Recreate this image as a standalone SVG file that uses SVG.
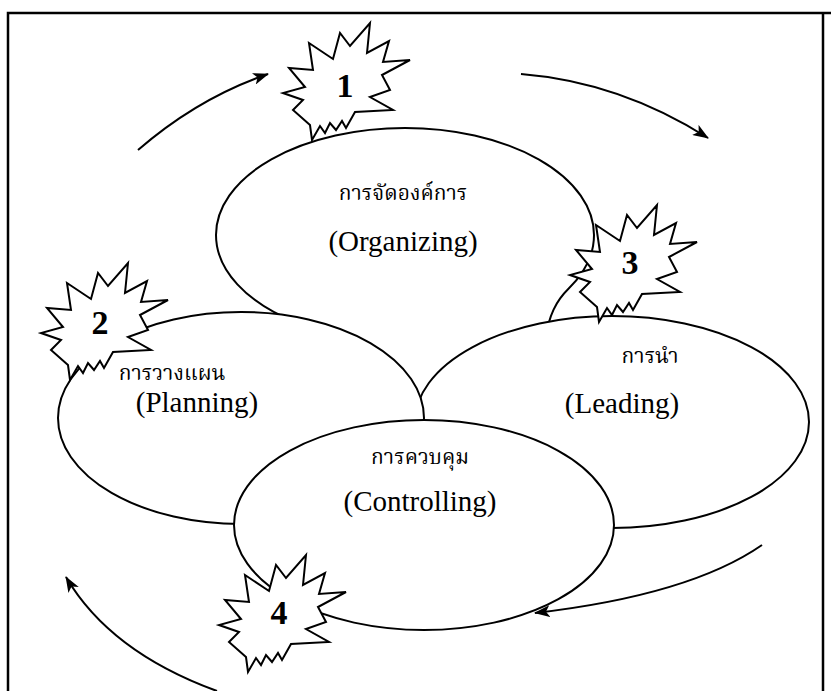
<svg xmlns="http://www.w3.org/2000/svg" width="831" height="691" viewBox="0 0 831 691">
<style>
.ell{fill:#fff;stroke:#000;stroke-width:2}
.star{fill:#fff;stroke:#000;stroke-width:2;stroke-linejoin:miter}
.num{font-family:"Liberation Serif",serif;font-weight:bold;font-size:34px;text-anchor:middle;fill:#000}
.th{font-family:"Liberation Serif","Noto Serif Thai","Noto Sans Thai",serif;font-size:21px;text-anchor:middle;fill:#000}
.en{font-family:"Liberation Serif",serif;font-size:29px;text-anchor:middle;fill:#000}
.arr{fill:none;stroke:#000;stroke-width:2;marker-end:url(#ah)}
</style>
<defs>
<marker id="ah" viewBox="0 0 16 12" refX="15" refY="6" markerWidth="16" markerHeight="12" markerUnits="userSpaceOnUse" orient="auto">
<path d="M0,0 L16,6 L0,12 L4,6 Z" fill="#000"/>
</marker>
<polygon id="burst" points="25,-57 22,-27 44,-39 38,-18 65,-20 37,-5 45,10 25,17 48,30 10,32 1,48 -3,41 -9,50 -15,43 -20,53 -25,46 -33,60 -35,45 -52,30 -42,20 -62,13 -40,7 -56,-12 -32,-10 -36,-37 -12,-21 -5,-47 5,-34"/>
</defs>
<rect width="831" height="691" fill="#fff"/>
<path d="M8,691 V13 H831 M823,13 V691" fill="none" stroke="#000" stroke-width="2.5"/>
<g id="connectors">
<path class="arr" d="M138,150 Q198,98 268,74"/>
<path class="arr" d="M521,74 Q620,82 708,138"/>
<path class="arr" d="M762,545 Q690,595 535,613"/>
<path class="arr" d="M217,691 Q110,652 66,577"/>
</g>
<g id="organizing">
<path class="ell" d="M296.6,322.6 A189,107 0 0 1 216,235 A189,107 0 0 1 594,235 A189,107 0 0 1 568.7,288.5 C556,301 549,315 545,340 L520,420 L330,420 Z"/>
<text class="th" x="403" y="200">การจัดองค์การ</text>
<text class="en" x="403" y="251">(Organizing)</text>
</g>
<g id="leading">
<ellipse class="ell" cx="612" cy="422" rx="197" ry="106"/>
<text class="th" x="650" y="363">การนำ</text>
<text class="en" x="622" y="413">(Leading)</text>
</g>
<g id="planning">
<ellipse class="ell" cx="241" cy="418" rx="183" ry="106"/>
<text class="th" x="172" y="380">การวางแผน</text>
<text class="en" x="197" y="412">(Planning)</text>
</g>
<g id="controlling">
<ellipse class="ell" cx="424" cy="525" rx="190" ry="105"/>
<text class="th" x="420" y="464">การควบคุม</text>
<text class="en" x="420" y="511">(Controlling)</text>
</g>
<g id="star1">
<use href="#burst" class="star" transform="translate(345,80)"/>
<text class="num" x="345" y="97">1</text>
</g>
<g id="star2">
<use href="#burst" class="star" transform="translate(103,320)"/>
<text class="num" x="100" y="334">2</text>
</g>
<g id="star3">
<use href="#burst" class="star" transform="translate(632,262)"/>
<text class="num" x="630" y="274">3</text>
</g>
<g id="star4">
<use href="#burst" class="star" transform="translate(281,612)"/>
<text class="num" x="279" y="624">4</text>
</g>
</svg>
